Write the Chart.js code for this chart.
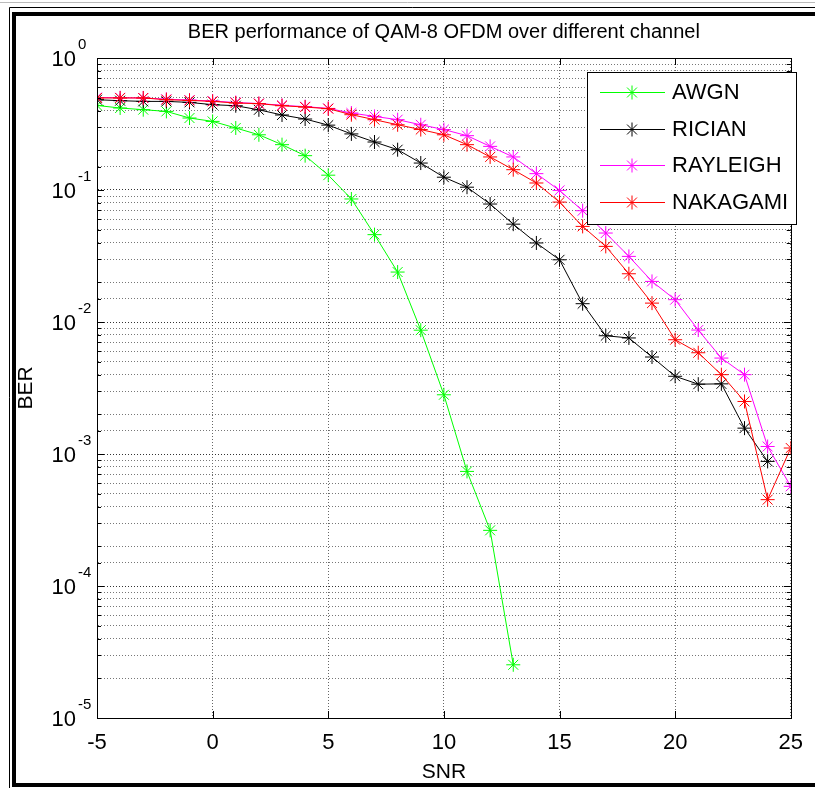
<!DOCTYPE html>
<html><head><meta charset="utf-8">
<script src="https://cdn.jsdelivr.net/npm/chart.js@4.4.1/dist/chart.umd.min.js"></script>
<style>html,body{margin:0;padding:0;background:#fff}canvas{display:block}</style>
</head><body>
<canvas id="c" width="815" height="788"></canvas>
<script>
// ---- data ----
const snr = [-5,-4,-3,-2,-1,0,1,2,3,4,5,6,7,8,9,10,11,12,13,14,15,16,17,18,19,20,21,22,23,24,25];
const awgn = [0.437,0.418,0.406,0.394,0.351,0.331,0.295,0.262,0.2205,0.182,0.1295,0.0855,0.0459,0.0239,0.00867,0.00281,0.000738,0.000264,0.0000253];
const rician = [0.483,0.475,0.469,0.469,0.461,0.443,0.435,0.405,0.37,0.345,0.31,0.266,0.231,0.202,0.160,0.125,0.105,0.0783,0.0551,0.0397,0.0296,0.01376,0.00787,0.00757,0.00543,0.00388,0.00338,0.0034,0.00157,0.000879];
const rayleigh = [0.502,0.5,0.498,0.487,0.48,0.472,0.46,0.452,0.438,0.428,0.415,0.383,0.361,0.341,0.312,0.287,0.258,0.214,0.178,0.133,0.0993,0.0697,0.0472,0.0314,0.0203,0.01476,0.00869,0.00533,0.00399,0.00114,0.000569];
const nakagami = [0.498,0.498,0.498,0.483,0.477,0.469,0.456,0.451,0.435,0.425,0.413,0.372,0.341,0.312,0.287,0.262,0.2205,0.178,0.1425,0.113,0.081,0.053,0.0374,0.0232,0.0139,0.00734,0.00585,0.00399,0.0025,0.000451,0.00111];
const seriesNames = ['AWGN','RICIAN','RAYLEIGH','NAKAGAMI'];
const seriesColors = ['#00ff00','#000000','#ff00ff','#ff0000'];
const yDecades = [0,-1,-2,-3,-4,-5];
const xTickStep = 5;
const titleText = 'BER performance of QAM-8 OFDM over different channel';
const xTitle = 'SNR';
const yTitle = 'BER';

const FONT = '"Liberation Sans", Arial, Helvetica, sans-serif';
Chart.defaults.font.family = FONT;

const allSeries = [awgn, rician, rayleigh, nakagami];
const datasets = allSeries.map((vals, i) => ({
  label: seriesNames[i],
  data: vals.map((v, j) => ({x: snr[j], y: v})),
  borderColor: seriesColors[i],
  backgroundColor: seriesColors[i],
  pointBorderColor: seriesColors[i],
  borderWidth: 1,
  pointStyle: 'star',
  pointRadius: 7,
  pointBorderWidth: 1,
  tension: 0,
  order: 3 - i
}));

function isDecade(v) {
  const l = Math.log10(v);
  return Math.abs(l - Math.round(l)) < 1e-9;
}

function drawStar(c, x, y, r, color) {
  c.save();
  c.strokeStyle = color; c.lineWidth = 1;
  c.beginPath();
  c.moveTo(x - r, y); c.lineTo(x + r, y);
  c.moveTo(x, y - r); c.lineTo(x, y + r);
  const d = r * Math.SQRT1_2;
  c.moveTo(x - d, y - d); c.lineTo(x + d, y + d);
  c.moveTo(x - d, y + d); c.lineTo(x + d, y - d);
  c.stroke();
  c.restore();
}

const decor = {
  id: 'decor',
  beforeDraw(chart) {
    const c = chart.ctx;
    c.save(); c.fillStyle = '#fff'; c.fillRect(0, 0, chart.width, chart.height); c.restore();
  },
  afterDatasetsDraw(chart) {
    const c = chart.ctx;
    const a = chart.chartArea;
    const xs = chart.scales.x, ys = chart.scales.y;
    c.save();
    // axis box
    c.strokeStyle = '#000'; c.lineWidth = 1;
    c.strokeRect(Math.round(a.left) + 0.5, Math.round(a.top) + 0.5, Math.round(a.right - a.left), Math.round(a.bottom - a.top));
    // inward ticks
    c.beginPath();
    ys.ticks.forEach(t => {
      const y = Math.round(ys.getPixelForValue(t.value)) + 0.5;
      const len = isDecade(t.value) ? 7 : 4;
      c.moveTo(a.left, y); c.lineTo(a.left + len, y);
      c.moveTo(a.right, y); c.lineTo(a.right - len, y);
    });
    xs.ticks.forEach(t => {
      const x = Math.round(xs.getPixelForValue(t.value)) + 0.5;
      c.moveTo(x, a.bottom); c.lineTo(x, a.bottom - 7);
      c.moveTo(x, a.top); c.lineTo(x, a.top + 7);
    });
    c.stroke();

    // legend
    const L = {left: 587, top: 72, right: 796, bottom: 224};
    c.fillStyle = '#fff';
    c.fillRect(L.left, L.top, L.right - L.left, L.bottom - L.top);
    c.strokeStyle = '#000'; c.lineWidth = 1;
    c.strokeRect(L.left + 0.5, L.top + 0.5, L.right - L.left, L.bottom - L.top);
    const rows = [92, 129, 165, 202];
    c.font = '22px ' + FONT;
    c.textBaseline = 'middle'; c.textAlign = 'left';
    seriesNames.forEach((n, i) => {
      const y = rows[i] + 0.5;
      c.strokeStyle = seriesColors[i]; c.lineWidth = 1;
      c.beginPath(); c.moveTo(600, y); c.lineTo(665, y); c.stroke();
      drawStar(c, 632, y, 7, seriesColors[i]);
      c.fillStyle = '#000';
      c.fillText(n, 672, rows[i] + 1);
    });
    c.restore();
  },
  afterDraw(chart) {
    const c = chart.ctx;
    const a = chart.chartArea;
    const ys = chart.scales.y;
    c.save();
    // y decade labels with superscripts
    c.fillStyle = '#000';
    yDecades.forEach(k => {
      const y = ys.getPixelForValue(Math.pow(10, k));
      c.font = '22px ' + FONT;
      c.textAlign = 'right'; c.textBaseline = 'middle';
      c.fillText('10', 76, y + 2);
      c.font = '15px ' + FONT;
      c.textAlign = 'left';
      c.fillText(String(k), 78, y - 13);
    });
    // title
    c.font = '20px ' + FONT;
    c.textAlign = 'center'; c.textBaseline = 'middle';
    c.fillText(titleText, (a.left + a.right) / 2, 32);
    // figure frame
    c.strokeStyle = '#000';
    c.lineWidth = 1;
    c.beginPath();
    c.moveTo(9.5, 788); c.lineTo(9.5, 7.5); c.lineTo(815, 7.5);
    c.stroke();
    c.lineWidth = 4;
    c.beginPath();
    c.moveTo(14, 785); c.lineTo(14, 14); c.lineTo(815, 14);
    c.moveTo(12, 785); c.lineTo(815, 785);
    c.stroke();
    c.strokeStyle = '#bbb'; c.lineWidth = 1;
    c.beginPath(); c.moveTo(0, 2.5); c.lineTo(815, 2.5); c.stroke();
    c.restore();
  }
};

new Chart(document.getElementById('c'), {
  type: 'line',
  data: {datasets},
  options: {
    responsive: false,
    animation: false,
    devicePixelRatio: 1,
    layout: {padding: {left: 0, right: 11, top: 58, bottom: 0}},
    plugins: {legend: {display: false}, tooltip: {enabled: false}, title: {display: false}},
    scales: {
      x: {
        type: 'linear', min: -5, max: 25,
        afterFit: s => { s.height = 70; },
        ticks: {stepSize: xTickStep, color: '#000', font: {size: 22}, padding: 12, maxRotation: 0, autoSkip: false},
        grid: {color: '#666', lineWidth: 1, drawTicks: false},
        border: {display: true, color: '#000', dash: [1, 2]},
        title: {display: true, text: xTitle, color: '#000', font: {size: 21}, padding: {top: 0, bottom: 3}}
      },
      y: {
        type: 'logarithmic', min: 1e-5, max: 1,
        afterFit: s => { s.width = 97; },
        ticks: {display: false, autoSkip: false},
        grid: {color: ctx => (ctx.tick && isDecade(ctx.tick.value)) ? '#333' : '#777', lineWidth: 1, drawTicks: false},
        border: {display: true, color: '#000', dash: [1, 2]},
        title: {display: true, text: yTitle, color: '#000', font: {size: 21}, padding: {top: 14, bottom: 0}}
      }
    }
  },
  plugins: [decor]
});
</script>
</body></html>
